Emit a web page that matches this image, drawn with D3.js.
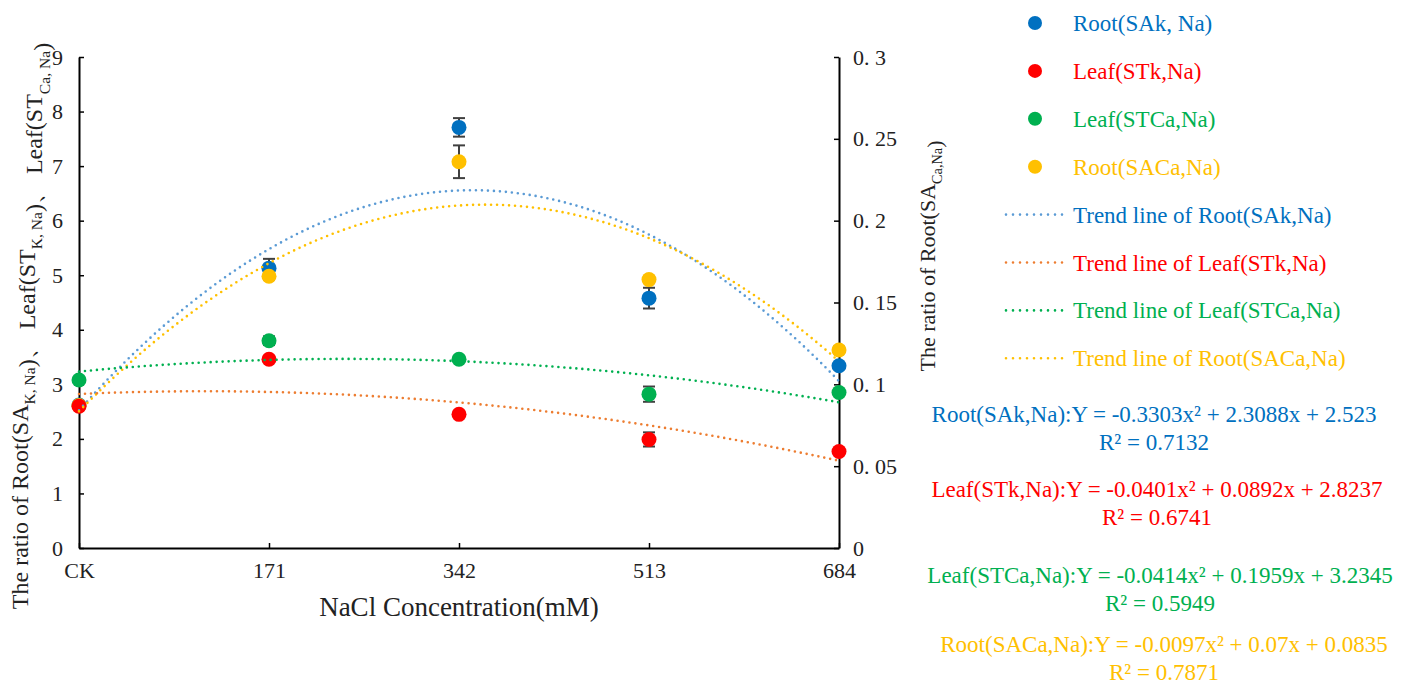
<!DOCTYPE html>
<html>
<head>
<meta charset="utf-8">
<script src="https://cdn.jsdelivr.net/npm/d3@7"></script>
<style>
  body { margin: 0; background: #fff; }
  svg text { font-family: "Liberation Serif", "Times New Roman", serif; }
</style>
</head>
<body>
<svg id="chart" width="1417" height="686"></svg>
<script>
// Categories and measured ratios (left axis unless noted).
var categories = ["CK", "171", "342", "513", "684"];
var rootSAk = [2.62, 5.13, 7.71, 4.58, 3.34];
var rootSAkErr = [0.05, 0.17, 0.17, 0.19, 0.05];
var leafSTk = [2.60, 3.46, 2.45, 1.99, 1.77];
var leafSTkErr = [0.05, 0.05, 0.05, 0.13, 0.05];
var leafSTCa = [3.08, 3.80, 3.46, 2.82, 2.85];
var leafSTCaErr = [0.05, 0.08, 0.04, 0.14, 0.04];
// Root(SACa,Na) is read on the right axis.
var rootSACa = [0.087, 0.166, 0.236, 0.164, 0.121];
var rootSACaErr = [0.002, 0.002, 0.010, 0.002, 0.002];

// Quadratic trend coefficients [a, b, c] as printed: Y = a x^2 + b x + c.
var trendRootSAk = [-0.3303, 2.3088, 2.523];
var trendLeafSTk = [-0.0401, 0.0892, 2.8237];
var trendLeafSTCa = [-0.0414, 0.1959, 3.2345];
var trendRootSACa = [-0.0097, 0.07, 0.0835];
var trendXMax = 6.75;

var leftTicks = [0, 1, 2, 3, 4, 5, 6, 7, 8, 9];
var rightTicks = [0, 0.05, 0.1, 0.15, 0.2, 0.25, 0.3];
var rightTickLabels = ["0", "0. 05", "0. 1", "0. 15", "0. 2", "0. 25", "0. 3"];

var legendNames = ["Root(SAk, Na)", "Leaf(STk,Na)", "Leaf(STCa,Na)", "Root(SACa,Na)"];
var trendNames = ["Root(SAk,Na)", "Leaf(STk,Na)", "Leaf(STCa,Na)", "Root(SACa,Na)"];
var equations = [
    ["Root(SAk,Na):Y = -0.3303x² + 2.3088x + 2.523", "R² = 0.7132"],
    ["Leaf(STk,Na):Y = -0.0401x² + 0.0892x + 2.8237", "R² = 0.6741"],
    ["Leaf(STCa,Na):Y = -0.0414x² + 0.1959x + 3.2345", "R² = 0.5949"],
    ["Root(SACa,Na):Y = -0.0097x² + 0.07x + 0.0835", "R² = 0.7871"]
];

var markerColors = ["#0070C0", "#FF0000", "#00B050", "#FFC000"];
var trendColors = ["#5B9BD5", "#ED7D31", "#00B050", "#FFC000"];

(function() {
    var svg = d3.select("#chart");
    var plotLeft = 79, plotRight = 839, plotTop = 57, plotBottom = 548;

    var x = d3.scalePoint().domain(categories).range([plotLeft, plotRight]);
    var xTrend = d3.scaleLinear().domain([0, trendXMax]).range([plotLeft, plotRight]);
    var yL = d3.scaleLinear().domain([0, 9]).range([plotBottom, plotTop]);
    var yR = d3.scaleLinear().domain([0, 0.3]).range([plotBottom, plotTop]);

    // Axes.
    function styleAxis(g) {
        g.select(".domain").attr("stroke", "#000").attr("stroke-width", 2);
        g.selectAll(".tick line").attr("stroke", "#000").attr("stroke-width", 1.5);
        g.selectAll(".tick text")
            .attr("fill", "#222")
            .style("font-family", "'Liberation Serif', serif")
            .style("font-size", "22px");
    }

    svg.append("g")
        .attr("transform", "translate(" + plotLeft + ",0)")
        .call(d3.axisLeft(yL).tickValues(leftTicks).tickSizeInner(-5).tickSizeOuter(0).tickPadding(16))
        .call(styleAxis);

    svg.append("g")
        .attr("transform", "translate(" + plotRight + ",0)")
        .call(d3.axisRight(yR).tickValues(rightTicks).tickSizeInner(-5).tickSizeOuter(0).tickPadding(14)
            .tickFormat(function(d, i) { return rightTickLabels[i]; }))
        .call(styleAxis);

    svg.append("g")
        .attr("transform", "translate(0," + plotBottom + ")")
        .call(d3.axisBottom(x).tickSizeInner(-5).tickSizeOuter(0).tickPadding(14))
        .call(styleAxis);

    // Axis titles.
    svg.append("text")
        .attr("x", x("342")).attr("y", 616)
        .attr("text-anchor", "middle")
        .style("font-size", "27px").attr("fill", "#222")
        .text("NaCl Concentration(mM)");

    function richTitle(g, parts, size) {
        var t = g.append("text").attr("text-anchor", "middle").style("font-size", size + "px").attr("fill", "#222");
        parts.forEach(function(p) {
            if (p.sub) {
                t.append("tspan").attr("dy", size * 0.3).style("font-size", (size * 0.65) + "px").text(p.sub);
                t.append("tspan").attr("dy", -size * 0.3).text("");
            } else {
                t.append("tspan").text(p.t);
            }
        });
        return t;
    }

    richTitle(svg.append("g").attr("transform", "translate(28,326) rotate(-90)"), [
        {t: "The ratio of Root(SA"}, {sub: "K, Na"}, {t: ")、 Leaf(ST"}, {sub: "K, Na"},
        {t: ")、 Leaf(ST"}, {sub: "Ca, Na"}, {t: ")"}
    ], 24);

    richTitle(svg.append("g").attr("transform", "translate(935,256) rotate(-90)"), [
        {t: "The ratio of Root(SA"}, {sub: "Ca,Na"}, {t: ")"}
    ], 22);

    // Series.
    var series = [
        {values: rootSAk, err: rootSAkErr, y: yL, coef: trendRootSAk, color: 0},
        {values: rootSACa, err: rootSACaErr, y: yR, coef: trendRootSACa, color: 3},
        {values: leafSTCa, err: leafSTCaErr, y: yL, coef: trendLeafSTCa, color: 2},
        {values: leafSTk, err: leafSTkErr, y: yL, coef: trendLeafSTk, color: 1}
    ];

    var plot = svg.append("g");
    series.forEach(function(s) {
        var g = plot.append("g");
        var pts = categories.map(function(c, i) { return {c: c, v: s.values[i], e: s.err[i]}; });
        var bars = g.selectAll("g.err").data(pts).enter().append("g").attr("class", "err")
            .attr("stroke", "#404040").attr("stroke-width", 2);
        bars.append("line")
            .attr("x1", function(d) { return x(d.c); }).attr("x2", function(d) { return x(d.c); })
            .attr("y1", function(d) { return s.y(d.v - d.e); }).attr("y2", function(d) { return s.y(d.v + d.e); });
        [-1, 1].forEach(function(sign) {
            bars.append("line")
                .attr("x1", function(d) { return x(d.c) - 6; }).attr("x2", function(d) { return x(d.c) + 6; })
                .attr("y1", function(d) { return s.y(d.v + sign * d.e); })
                .attr("y2", function(d) { return s.y(d.v + sign * d.e); });
        });
        g.selectAll("circle").data(pts).enter().append("circle")
            .attr("cx", function(d) { return x(d.c); })
            .attr("cy", function(d) { return s.y(d.v); })
            .attr("r", 7.5)
            .attr("fill", markerColors[s.color]);
    });

    // Trend lines (from the printed equations).
    var trendXs = d3.range(0, 101).map(function(i) { return trendXMax * i / 100; });
    series.forEach(function(s) {
        var line = d3.line()
            .x(function(t) { return xTrend(t); })
            .y(function(t) { return s.y(s.coef[0] * t * t + s.coef[1] * t + s.coef[2]); });
        plot.append("path")
            .datum(trendXs)
            .attr("d", line)
            .attr("fill", "none")
            .attr("stroke", trendColors[s.color])
            .attr("stroke-width", 2.6)
            .attr("stroke-linecap", "round")
            .attr("stroke-dasharray", "0 6");
    });

    // Legend.
    var legend = svg.append("g");
    var rowY = function(i) { return 23 + i * 47.9; };
    legendNames.forEach(function(name, i) {
        legend.append("circle").attr("cx", 1035).attr("cy", rowY(i)).attr("r", 7).attr("fill", markerColors[i]);
        legend.append("text").attr("x", 1073).attr("y", rowY(i)).attr("dy", "0.35em")
            .style("font-size", "23px").attr("fill", markerColors[i]).text(name);
    });
    trendNames.forEach(function(name, i) {
        var yy = rowY(i + 4);
        legend.append("line").attr("x1", 1006).attr("x2", 1064).attr("y1", yy).attr("y2", yy)
            .attr("stroke", trendColors[i]).attr("stroke-width", 2.6)
            .attr("stroke-linecap", "round").attr("stroke-dasharray", "0 7");
        legend.append("text").attr("x", 1073).attr("y", yy).attr("dy", "0.35em")
            .style("font-size", "23px").attr("fill", markerColors[i]).text("Trend line of " + name);
    });

    // Equations.
    var eqPos = [[1154, 422], [1157, 497], [1160, 583], [1164, 652]];
    equations.forEach(function(eq, i) {
        svg.append("text").attr("x", eqPos[i][0]).attr("y", eqPos[i][1])
            .attr("text-anchor", "middle").style("font-size", "23px").attr("fill", markerColors[i]).text(eq[0]);
        svg.append("text").attr("x", eqPos[i][0]).attr("y", eqPos[i][1] + 28)
            .attr("text-anchor", "middle").style("font-size", "23px").attr("fill", markerColors[i]).text(eq[1]);
    });
})();
</script>
</body>
</html>
